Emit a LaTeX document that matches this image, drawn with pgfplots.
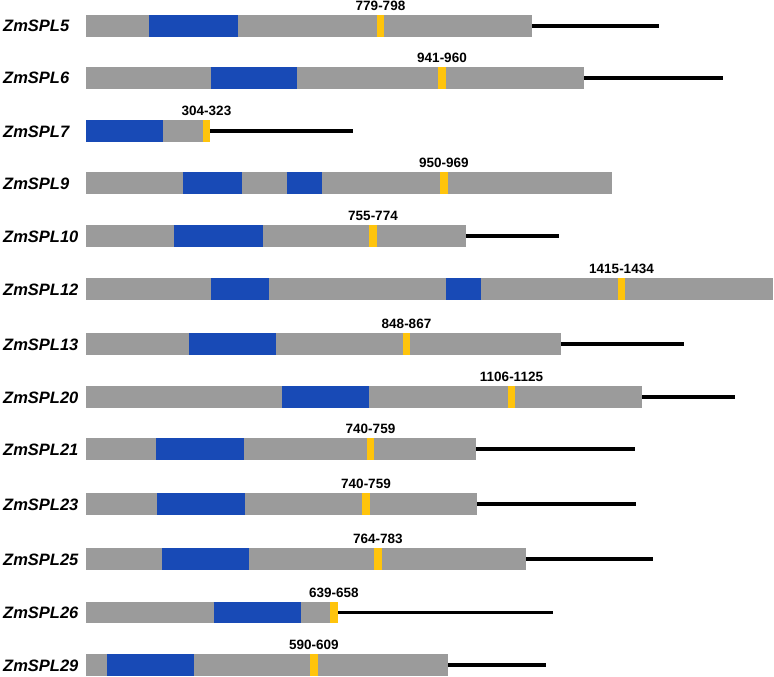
\documentclass[border=0pt]{standalone}
\usepackage{fontspec}
\setmainfont{Liberation Sans}
\usepackage{pgfplots}
\pgfplotsset{compat=1.18}
\definecolor{cgray}{RGB}{155,155,155}
\definecolor{cblue}{RGB}{24,74,182}
\definecolor{cyel}{RGB}{255,196,12}
\begin{document}
\begin{tikzpicture}
\begin{axis}[hide axis, x=1pt, y=1pt, xmin=0, xmax=774, ymin=0, ymax=677, y dir=reverse,
  clip=false, unbounded coords=jump,
  every node/.append style={inner sep=0pt, outer sep=0pt}]
\coordinate (bbA) at (rel axis cs:0,0);
\coordinate (bbB) at (rel axis cs:1,1);
% UTR lines (black)
\addplot[black, line width=3.2pt] coordinates {
 (531.7,26)(659.3,26) (nan,nan)
 (584,78)(722.7,78) (nan,nan)
 (210,131)(352.7,131) (nan,nan)
 (466,236)(558.7,236) (nan,nan)
 (560.7,344)(684.3,344) (nan,nan)
 (641.7,397)(735,397) (nan,nan)
 (476,449)(635,449) (nan,nan)
 (476.7,504)(636,504) (nan,nan)
 (526,559)(653.3,559) (nan,nan)
 (337.3,612.5)(553.3,612.5) (nan,nan)
 (448.3,665)(546,665)
};
% coding region (gray)
\addplot[cgray, line width=21.7pt] coordinates {
 (86,26)(531.7,26) (nan,nan)
 (86,78)(584,78) (nan,nan)
 (86,131)(202.7,131) (nan,nan)
 (86,183)(612,183) (nan,nan)
 (86,236)(466,236) (nan,nan)
 (86,289)(773.3,289) (nan,nan)
 (86,344)(560.7,344) (nan,nan)
 (86,397)(641.7,397) (nan,nan)
 (86,449)(476,449) (nan,nan)
 (86,504)(476.7,504) (nan,nan)
 (86,559)(526,559) (nan,nan)
 (86,612.5)(330,612.5) (nan,nan)
 (86,665)(448.3,665)
};
% SBP domains (blue)
\addplot[cblue, line width=21.7pt] coordinates {
 (149.3,26)(237.7,26) (nan,nan)
 (210.7,78)(297.3,78) (nan,nan)
 (86,131)(163.3,131) (nan,nan)
 (182.7,183)(242.3,183) (nan,nan)
 (286.7,183)(321.7,183) (nan,nan)
 (173.7,236)(262.7,236) (nan,nan)
 (211,289)(269,289) (nan,nan)
 (445.7,289)(480.7,289) (nan,nan)
 (189.3,344)(276,344) (nan,nan)
 (282,397)(369,397) (nan,nan)
 (156,449)(244,449) (nan,nan)
 (157,504)(245,504) (nan,nan)
 (162,559)(249,559) (nan,nan)
 (213.7,612.5)(300.7,612.5) (nan,nan)
 (107.3,665)(194.3,665)
};
% miR156 target sites (yellow)
\addplot[cyel, line width=21.7pt] coordinates {
 (376.7,26)(384.2,26) (nan,nan)
 (438.3,78)(445.8,78) (nan,nan)
 (202.7,131)(210.2,131) (nan,nan)
 (440,183)(447.5,183) (nan,nan)
 (369.3,236)(376.8,236) (nan,nan)
 (617.7,289)(625.2,289) (nan,nan)
 (402.7,344)(410.2,344) (nan,nan)
 (507.7,397)(515.2,397) (nan,nan)
 (366.7,449)(374.2,449) (nan,nan)
 (362.3,504)(369.8,504) (nan,nan)
 (374,559)(381.5,559) (nan,nan)
 (330,612.5)(337.5,612.5) (nan,nan)
 (310,665)(317.5,665)
};
% gene names
\begin{scope}[every node/.style={anchor=base west, inner sep=0pt, font=\bfseries\itshape\fontsize{16.5}{19}\selectfont}]
\node at (axis cs:3,32) {ZmSPL5};
\node at (axis cs:3,84) {ZmSPL6};
\node at (axis cs:3,137) {ZmSPL7};
\node at (axis cs:3,189) {ZmSPL9};
\node at (axis cs:3,242) {ZmSPL10};
\node at (axis cs:3,295) {ZmSPL12};
\node at (axis cs:3,350) {ZmSPL13};
\node at (axis cs:3,403) {ZmSPL20};
\node at (axis cs:3,455) {ZmSPL21};
\node at (axis cs:3,510) {ZmSPL23};
\node at (axis cs:3,565) {ZmSPL25};
\node at (axis cs:3,618.5) {ZmSPL26};
\node at (axis cs:3,671) {ZmSPL29};
\end{scope}
% site labels
\begin{scope}[every node/.style={anchor=base, inner sep=0pt, font=\bfseries\fontsize{13.5}{15}\selectfont}]
\node at (axis cs:380.5,10.5) {779-798};
\node at (axis cs:442,62.5) {941-960};
\node at (axis cs:206.5,115.5) {304-323};
\node at (axis cs:443.8,167.5) {950-969};
\node at (axis cs:373,220.5) {755-774};
\node at (axis cs:621.5,273.5) {1415-1434};
\node at (axis cs:406.5,328.5) {848-867};
\node at (axis cs:511.5,381.5) {1106-1125};
\node at (axis cs:370.5,433.5) {740-759};
\node at (axis cs:366,488.5) {740-759};
\node at (axis cs:377.8,543.5) {764-783};
\node at (axis cs:333.8,597) {639-658};
\node at (axis cs:313.8,649.5) {590-609};
\end{scope}
\end{axis}
\pgfresetboundingbox
\path[use as bounding box] (bbA) rectangle (bbB);
\end{tikzpicture}
\end{document}
